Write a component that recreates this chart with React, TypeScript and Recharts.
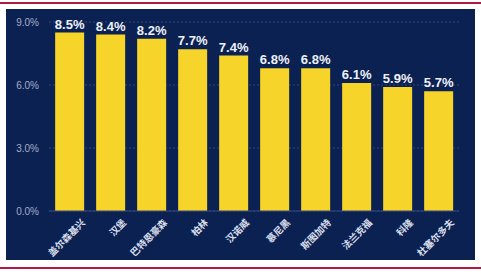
import { BarChart, CartesianGrid, XAxis, YAxis, Bar, LabelList } from 'recharts'

const cities = ['盖尔森基兴', '汉堡', '巴特恩豪森', '柏林', '汉诺威', '慕尼黑', '斯图加特', '法兰克福', '科隆', '杜塞尔多夫']
const rates = [8.5, 8.4, 8.2, 7.7, 7.4, 6.8, 6.8, 6.1, 5.9, 5.7]
const yTicks = [0, 3, 6, 9]

const data = cities.map((name, i) => ({ name, rate: rates[i] }))

const CityTick = ({ x, y, payload }: any) => (
	<text
		x={x + 14}
		y={y + 2}
		dy="0.35em"
		transform={`rotate(-45 ${x + 14} ${y + 2})`}
		textAnchor="end"
		fill="#d9deea"
		fontSize={9.5}
		fontWeight={700}
		fontFamily="'Noto Sans CJK SC', sans-serif"
	>
		{payload.value}
	</text>
)

export default function App() {
	return (
		<div style={{ position: 'fixed', left: 0, top: 0, width: 481, height: 273, background: '#fff', fontFamily: 'Arial, sans-serif' }}>
			<div
				style={{
					position: 'absolute',
					left: 0,
					top: 2,
					width: 481,
					height: 267,
					boxSizing: 'border-box',
					borderTop: '2px solid #b3193f',
					borderBottom: '2px solid #b3193f',
				}}
			/>
			<div style={{ position: 'absolute', left: 6, top: 9, width: 469, height: 251, background: '#0b2152' }}>
				<BarChart width={469} height={251} data={data} margin={{ top: 13, right: 16, bottom: 0, left: 0 }} barCategoryGap="15%">
					<CartesianGrid vertical={false} stroke="#34477a" strokeDasharray="2 2" />
					<YAxis
						domain={[0, 9]}
						ticks={yTicks}
						width={43}
						axisLine={false}
						tickLine={false}
						tickSize={0}
						tickMargin={10}
						tick={{ fill: '#a5aec6', fontSize: 10 }}
						tickFormatter={(v: number) => `${v.toFixed(1)}%`}
					/>
					<XAxis
						dataKey="name"
						height={49}
						interval={0}
						axisLine={{ stroke: '#34477a' }}
						tickLine={false}
						tick={<CityTick />}
					/>
					<Bar dataKey="rate" fill="#f6d429" isAnimationActive={false}>
						<LabelList
							dataKey="rate"
							position="top"
							offset={4}
							fill="#eef1f7"
							fontSize={13}
							fontWeight={700}
							formatter={(v: any) => `${Number(v).toFixed(1)}%`}
						/>
					</Bar>
				</BarChart>
			</div>
		</div>
	)
}
